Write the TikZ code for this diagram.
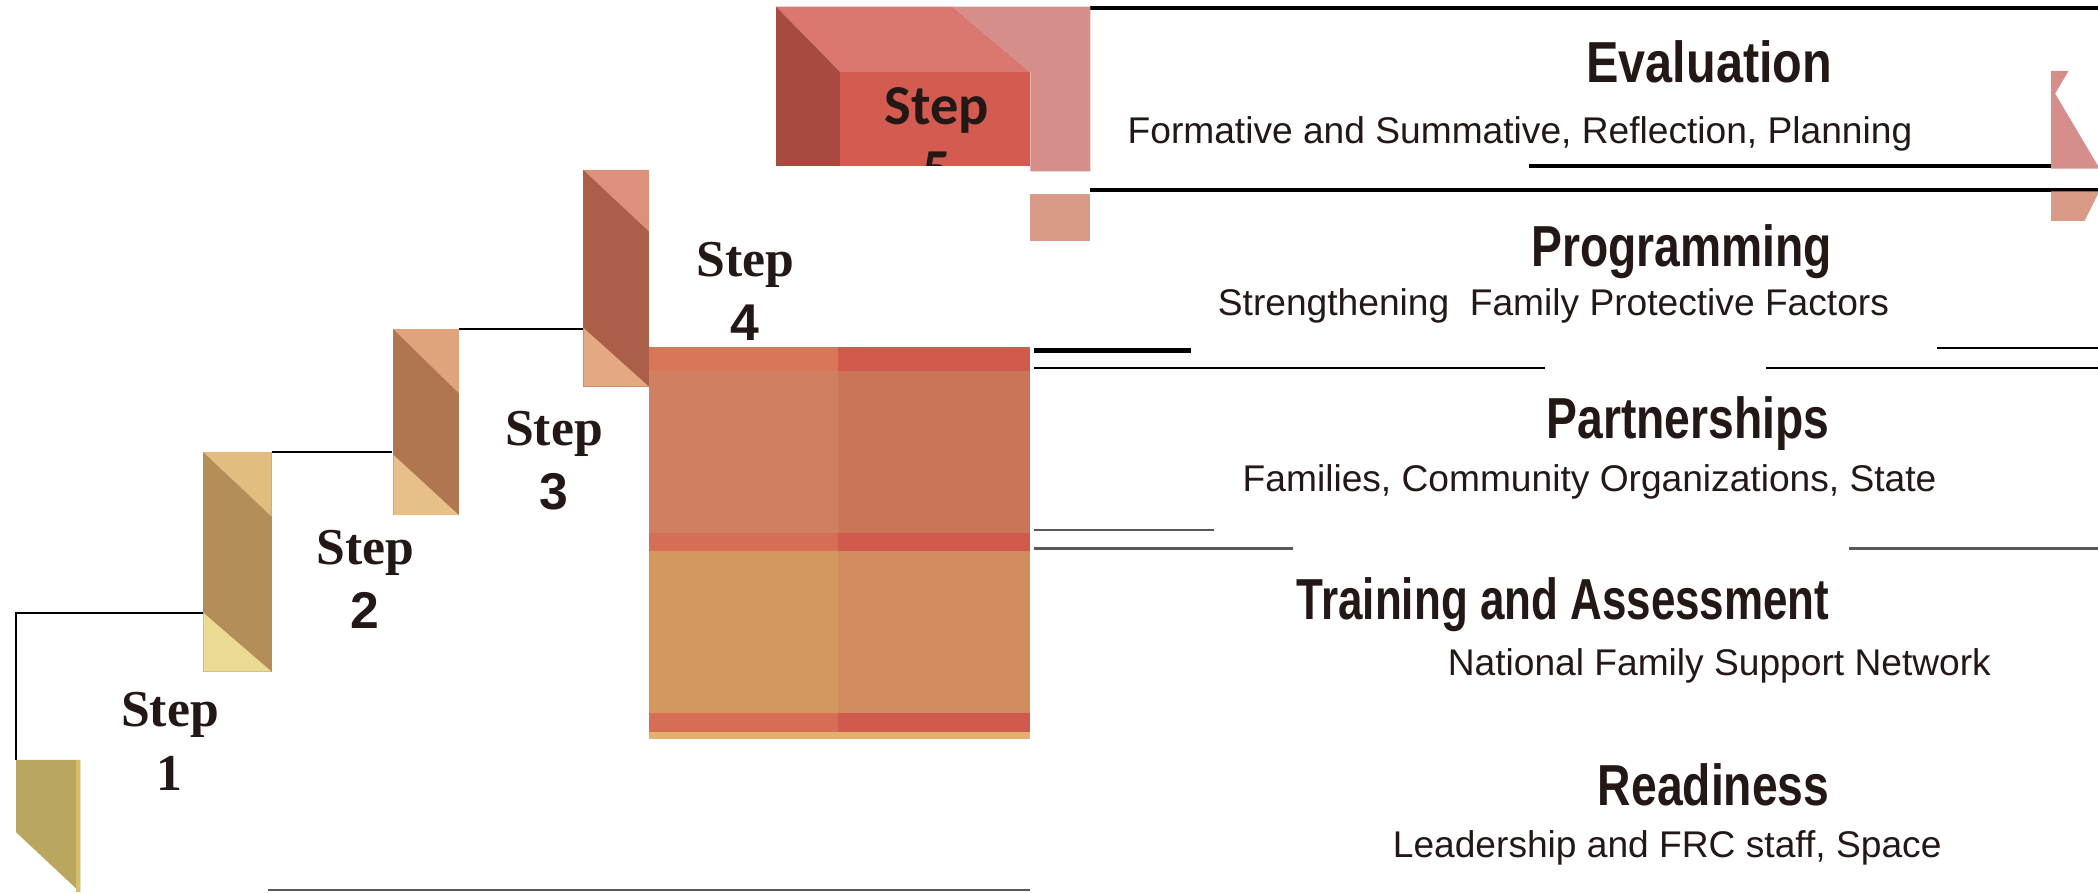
\documentclass[tikz,border=0pt]{standalone}
\usepackage{fontspec}
\setmainfont{Liberation Serif}
\setsansfont{Liberation Sans}
\newfontfamily\stepfont{Carlito}
\newfontfamily\headfont[FakeStretch=0.8]{Liberation Sans Bold}
\definecolor{ink}{HTML}{231815}
\definecolor{olive}{HTML}{B9A65F}
\definecolor{oliveedge}{HTML}{D6BE6A}
\definecolor{tan2}{HTML}{E3BC80}
\definecolor{brown2}{HTML}{B38E58}
\definecolor{pale2}{HTML}{EBDA92}
\definecolor{tan3}{HTML}{E0A47C}
\definecolor{brown3}{HTML}{B07650}
\definecolor{pale3}{HTML}{E7C089}
\definecolor{tan4}{HTML}{DE917A}
\definecolor{brown4}{HTML}{AB5F48}
\definecolor{pale4}{HTML}{E4A982}
\definecolor{boxtop}{HTML}{D97770}
\definecolor{boxside}{HTML}{A84A40}
\definecolor{boxfront}{HTML}{D45B50}
\definecolor{boxband}{HTML}{D68E8A}
\definecolor{boxlow}{HTML}{D99A88}
\definecolor{gridA}{HTML}{D9765A}
\definecolor{gridB}{HTML}{D05A4C}
\definecolor{gridC}{HTML}{CE8060}
\definecolor{gridD}{HTML}{CC7458}
\definecolor{gridE}{HTML}{D56E55}
\definecolor{gridF}{HTML}{D3975F}
\definecolor{gridG}{HTML}{D18C5E}
\definecolor{gold}{HTML}{E3B070}
\tikzset{
  rule/.style={line width=0.45pt},
  thickrule/.style={line width=0.75pt},
  greyrule/.style={line width=0.5pt,black!65},
  steptext/.style={font=\rmfamily\bfseries\fontsize{11}{13.6}\selectfont,text=ink,align=center,inner sep=0pt},
  title/.style={font=\headfont\fontsize{12.3}{14}\selectfont,text=ink,anchor=base east,inner sep=0pt},
  subtitle/.style={font=\sffamily\fontsize{7.9}{9}\selectfont,text=ink,anchor=base,inner sep=0pt}
}
\begin{document}
\begin{tikzpicture}[x=0.1mm,y=-0.1mm]
  \useasboundingbox (0,0) rectangle (1568,667);
  % rules on the right
  \draw[thickrule] (815,6) -- (1568,6);
  \draw[thickrule] (1143,124) -- (1533,124);
  \draw[thickrule] (815,142) -- (1568,142);
  \draw[line width=1.2pt] (773,262) -- (890,262);
  \draw[rule] (773,275) -- (1155,275) (1320,275) -- (1568,275) (1448,260) -- (1568,260);
  \draw[greyrule] (773,396) -- (907,396) (773,410) -- (966,410) (1382,410) -- (1568,410);
  \draw[greyrule] (200,665) -- (770,665);
  % stair lines
  \draw[rule] (12,568) -- (12,458) -- (152,458);
  \draw[rule] (203,338) -- (293,338);
  \draw[rule] (343,246) -- (436,246);
  \draw[thickrule] (485,128) -- (580,128);
  % step 5 box
  \fill[boxtop] (580,5) -- (712,5) -- (770,54) -- (628,54) -- cycle;
  \fill[boxband] (712,5) -- (815,5) -- (815,128) -- (770,128) -- (770,54) -- cycle;
  \fill[boxside] (580,5) -- (628,54) -- (628,124) -- (580,124) -- cycle;
  \fill[boxfront] (628,54) rectangle (770,124);
  \fill[boxlow] (770,145) rectangle (815,180);
  \node[font=\stepfont\bfseries\fontsize{12}{13.6}\selectfont,text=ink,align=center,inner sep=0pt] (step5) at (700,103) {Step\\5};
  \fill[white] (485,124) rectangle (770,259);
  % grid under step 4
  \foreach \ya/\yb/\cl/\cr in {259/277/gridA/gridB, 277/398/gridC/gridD, 398/412/gridE/gridB, 412/533/gridF/gridG, 533/547/gridE/gridB}
  {
    \fill[\cl] (485,\ya) rectangle (626,\yb);
    \fill[\cr] (626,\ya) rectangle (770,\yb);
  }
  \fill[gold] (485,547) rectangle (770,552);
  % risers
  \fill[olive] (12,568) -- (60,568) -- (60,667) -- (12,622) -- cycle;
  \fill[oliveedge] (57,568) rectangle (60,667);
  \foreach \xa/\xb/\ya/\yb/\yc/\yd/\n in {152/203/338/386/458/502/2, 294/343/246/294/340/385/3, 436/485/127/173/245/289/4}
  {
    \fill[brown\n] (\xa,\ya) rectangle (\xb,\yd);
    \fill[tan\n] (\xa,\ya) -- (\xb,\ya) -- (\xb,\yb) -- cycle;
    \fill[pale\n] (\xa,\yc) -- (\xa,\yd) -- (\xb,\yd) -- cycle;
  }
  % sliver at the right edge
  \fill[boxband] (1533,53) -- (1546,53) -- (1536,70) -- (1568,124) -- (1568,126) -- (1533,126) -- cycle;
  \fill[boxlow] (1533,143) -- (1568,143) -- (1568,145) -- (1558,165) -- (1533,165) -- cycle;
  % step labels
  \node[steptext] (step1) at (127,554) {Step\\1};
  \node[steptext] (step2) at (273,433) {Step\\{\sffamily 2}};
  \node[steptext] (step3) at (414,344) {Step\\{\sffamily 3}};
  \node[steptext] (step4) at (557,218) {Step\\{\sffamily 4}};
  % titles
  \node[title] (eval) at (1370,62) {\scalebox{1.05}[1]{Evaluation}};
  \node[subtitle] (evalsub) at (1136,107) {Formative and Summative, Reflection, Planning};
  \node[title] (prog) at (1370,199) {Programming};
  \node[subtitle] (progsub) at (1161,236) {Strengthening\ \ Family Protective Factors};
  \node[title] (part) at (1368,328) {Partnerships};
  \node[subtitle] (partsub) at (1188,367) {Families, Community Organizations, State};
  \node[title] (train) at (1368,463) {\scalebox{0.95}[1]{Training and Assessment}};
  \node[subtitle] (trainsub) at (1285,505) {National Family Support Network};
  \node[title] (ready) at (1368,602) {Readiness};
  \node[subtitle] (readysub) at (1246,641) {Leadership and FRC staff, Space};
\end{tikzpicture}
\end{document}
